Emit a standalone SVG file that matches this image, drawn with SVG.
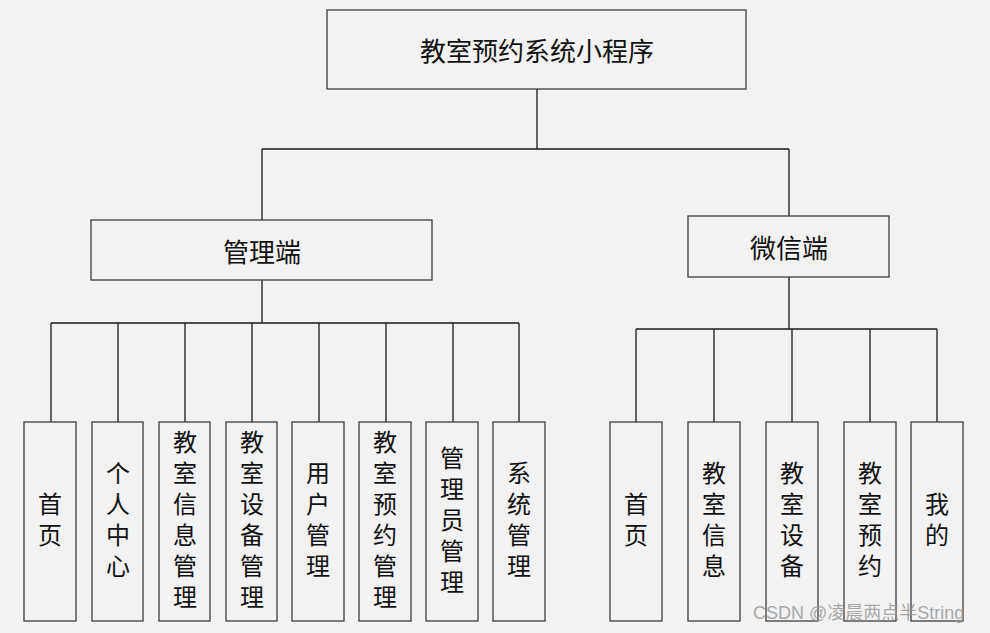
<svg xmlns="http://www.w3.org/2000/svg" width="990" height="633" viewBox="0 0 990 633">
<style>
.box{fill:#f2f2f2;stroke:#3c3c3c;stroke-width:1.3}
.conn{fill:none;stroke:#1a1a1a;stroke-width:1.3}
.t{font-family:"Noto Sans CJK SC","Microsoft YaHei",sans-serif;fill:#111;text-anchor:middle;dominant-baseline:central}
.big{font-size:26px}
.v{font-size:24px;writing-mode:vertical-rl;letter-spacing:7px}
.wm{font-family:"Liberation Sans","Noto Sans CJK SC",sans-serif;font-size:18px;fill:#9a9a9a;fill-opacity:0.85}
</style>
<rect width="990" height="633" fill="#f2f2f2"/>
<g id="connectors" class="conn">
<path d="M537 89V149M262 149H789M262 149V220M789 149V216"/>
<path d="M262 280V323M51 323H519M51 323V422M118 323V422M185 323V422M252 323V422M319 323V422M386 323V422M453 323V422M519 323V422"/>
<path d="M789 277V329M636 329H937M636 329V422M714 329V422M792 329V422M870 329V422M937 329V422"/>
</g>
<g id="root"><rect class="box" x="327" y="10" width="419" height="79"/><text class="t big" x="537" y="49">教室预约系统小程序</text></g>
<g id="admin"><rect class="box" x="91" y="220" width="341" height="60"/><text class="t big" x="262" y="250">管理端</text></g>
<g id="wechat"><rect class="box" x="688" y="216" width="201" height="61"/><text class="t big" x="789" y="246">微信端</text></g>
<g id="a1"><rect class="box" x="24" y="422" width="52" height="199"/><text class="t v" x="50" y="523">首页</text></g>
<g id="a2"><rect class="box" x="92" y="422" width="51" height="199"/><text class="t v" x="118" y="523">个人中心</text></g>
<g id="a3"><rect class="box" x="159" y="422" width="51" height="199"/><text class="t v" x="185" y="523">教室信息管理</text></g>
<g id="a4"><rect class="box" x="226" y="422" width="51" height="199"/><text class="t v" x="252" y="523">教室设备管理</text></g>
<g id="a5"><rect class="box" x="292" y="422" width="52" height="199"/><text class="t v" x="318" y="523">用户管理</text></g>
<g id="a6"><rect class="box" x="359" y="422" width="52" height="199"/><text class="t v" x="385" y="523">教室预约管理</text></g>
<g id="a7"><rect class="box" x="426" y="422" width="52" height="199"/><text class="t v" x="452" y="523">管理员管理</text></g>
<g id="a8"><rect class="box" x="493" y="422" width="52" height="199"/><text class="t v" x="519" y="523">系统管理</text></g>
<g id="w1"><rect class="box" x="610" y="422" width="52" height="199"/><text class="t v" x="636" y="523">首页</text></g>
<g id="w2"><rect class="box" x="688" y="422" width="52" height="199"/><text class="t v" x="714" y="523">教室信息</text></g>
<g id="w3"><rect class="box" x="766" y="422" width="52" height="199"/><text class="t v" x="792" y="523">教室设备</text></g>
<g id="w4"><rect class="box" x="844" y="422" width="52" height="199"/><text class="t v" x="870" y="523">教室预约</text></g>
<g id="w5"><rect class="box" x="911" y="422" width="52" height="199"/><text class="t v" x="937" y="523">我的</text></g>
<text class="wm" x="753" y="619">CSDN @凌晨两点半String</text>
</svg>
